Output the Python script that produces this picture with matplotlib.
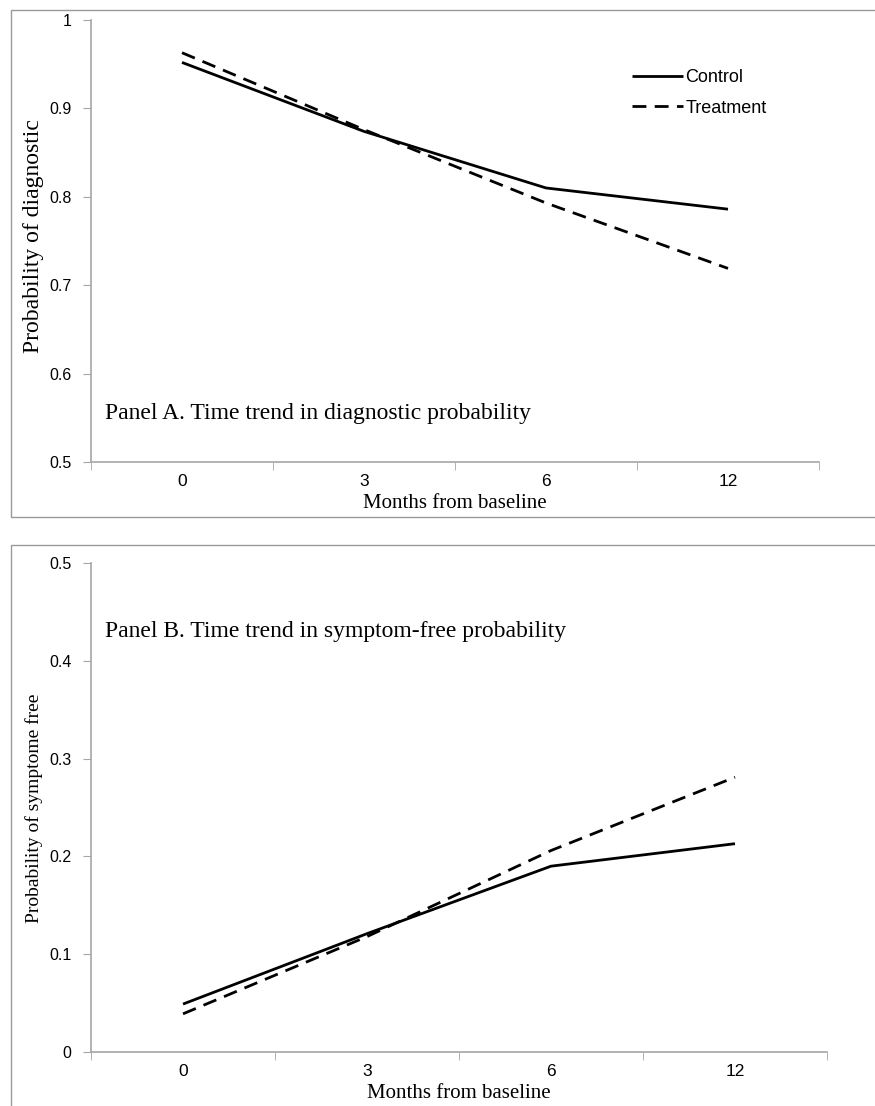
import numpy as np
import matplotlib.pyplot as plt
from matplotlib.patches import Rectangle

months = ['0', '3', '6', '12']
diag_control = [0.952, 0.874, 0.810, 0.786]
diag_treatment = [0.963, 0.876, 0.793, 0.719]
free_control = [0.049, 0.121, 0.190, 0.213]
free_treatment = [0.039, 0.118, 0.206, 0.281]

serif = ['Liberation Serif', 'DejaVu Serif']
sans = ['Liberation Sans', 'DejaVu Sans']
grey = '#a6a6a6'

fig = plt.figure(figsize=(8.75, 11.06), dpi=100)

# panel frames, as in the original Excel charts
fig.patches.append(Rectangle((11/875, 1-517/1106), 1, 507/1106, transform=fig.transFigure,
                             fill=False, edgecolor='#9a9a9a', lw=1))
fig.patches.append(Rectangle((11/875, -0.01), 1, 1-545/1106+0.01, transform=fig.transFigure,
                             fill=False, edgecolor='#9a9a9a', lw=1))

axA = fig.add_axes([91/875, 1-462/1106, 728/875, 442/1106])
axB = fig.add_axes([91/875, 1-1052/1106, 736/875, 489/1106])


def style(ax, ylim, ylabel, ylab_size, note, note_y, xlab_y, ylab_xy):
    x = np.arange(len(months))
    ax.set_xlim(-0.5, len(months)-0.5)
    ax.set_ylim(*ylim)
    ax.set_xticks(x)
    ax.set_xticklabels(months, family=sans, fontsize=12.5)
    ax.set_xticks(np.arange(len(months)+1)-0.5, minor=True)
    ax.tick_params(axis='x', which='major', length=0, pad=9)
    ax.tick_params(axis='x', which='minor', length=6, color=grey, direction='out')
    yt = np.arange(ylim[0], ylim[1]+0.001, 0.1)
    ax.set_yticks(yt)
    ax.set_yticklabels([('%g' % round(v, 1)) for v in yt], family=sans, fontsize=11.5)
    ax.tick_params(axis='y', length=6, color=grey, pad=8)
    for s in ['top', 'right']:
        ax.spines[s].set_visible(False)
    for s in ['left', 'bottom']:
        ax.spines[s].set_color(grey)
        ax.spines[s].set_linewidth(1.2)
    ax.set_xlabel('Months from baseline', family=serif, fontsize=15, va='center')
    ax.xaxis.set_label_coords(0.5, xlab_y)
    ax.set_ylabel(ylabel, family=serif, fontsize=ylab_size, va='center')
    ax.yaxis.set_label_coords(*ylab_xy)
    ax.text(0.0193, note_y, note, transform=ax.transAxes, family=serif, fontsize=17,
            va='center', ha='left')


x = np.arange(len(months))
axA.plot(x, diag_control, color='black', lw=2.0, label='Control', solid_capstyle='butt')
axA.plot(x, diag_treatment, color='black', lw=2.0, dashes=(5, 3), label='Treatment')
style(axA, (0.5, 1.0), 'Probability of diagnostic', 17,
      'Panel A. Time trend in diagnostic probability', (462-413)/442,
      (462-503)/442, ((34-91)/728, (462-236)/442))
axA.legend(loc='upper left', bbox_to_anchor=((632-91)/728, (462-69)/442), frameon=False,
           prop={'family': sans, 'size': 13}, handlelength=2.8, handletextpad=0.15,
           labelspacing=0.75, borderaxespad=0, borderpad=0)

axB.plot(x, free_control, color='black', lw=2.0, solid_capstyle='butt')
axB.plot(x, free_treatment, color='black', lw=2.0, dashes=(5, 3))
style(axB, (0.0, 0.5), 'Probability of symptome free', 14,
      'Panel B. Time trend in symptom-free probability', (1052-632)/489,
      (1052-1094)/489, ((34-91)/736, (1052-808)/489))

fig.savefig('out.png', dpi=100)
